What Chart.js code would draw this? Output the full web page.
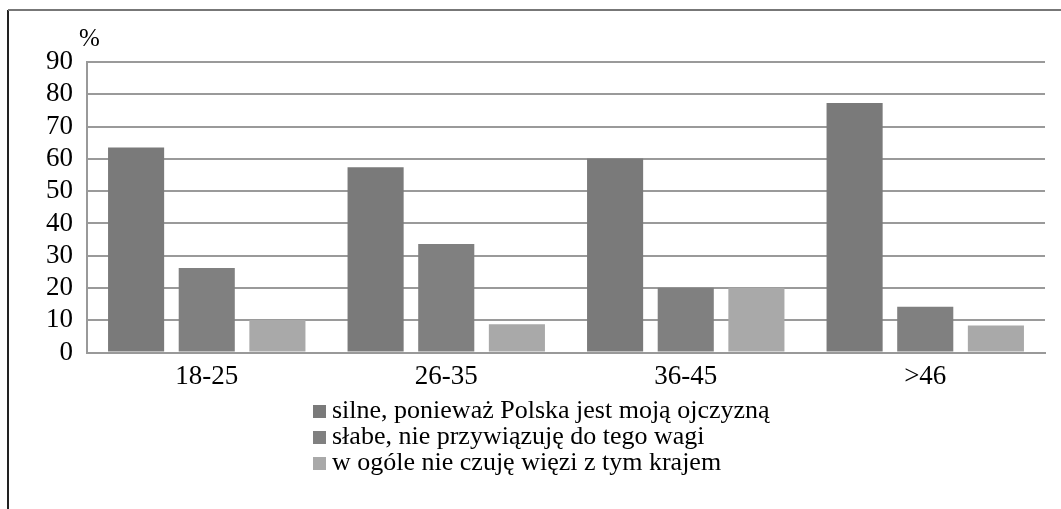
<!DOCTYPE html>
<html>
<head>
<meta charset="utf-8">
<script src="https://cdn.jsdelivr.net/npm/chart.js@4.4.0/dist/chart.umd.min.js"></script>
<style>
    html, body { margin: 0; padding: 0; background: #fff; }
    #wrap { width: 1061px; height: 509px; position: relative; }
</style>
</head>
<body>
<div id="wrap"><canvas id="myChart" width="1061" height="509"></canvas></div>
<script>
const categories = ['18-25', '26-35', '36-45', '>46'];
const seriesNames = [
    'silne, ponieważ Polska jest moją ojczyzną',
    'słabe, nie przywiązuję do tego wagi',
    'w ogóle nie czuję więzi z tym krajem'
];
const strongValues = [63.5, 57.4, 60.1, 77.3];
const weakValues = [26.2, 33.6, 20.1, 14.2];
const noneValues = [10.1, 8.8, 20.1, 8.4];
const yTicks = [0, 10, 20, 30, 40, 50, 60, 70, 80, 90];

const FONT = '"Liberation Serif", "DejaVu Serif", serif';
const colors = ['#7a7a7a', '#808080', '#a9a9a9'];

// ramka, znak % i legenda w pionie
const extras = {
    id: 'extras',
    afterDraw(chart) {
        const ctx = chart.ctx;
        const area = chart.chartArea;
        ctx.save();
        ctx.strokeStyle = '#222';
        ctx.lineWidth = 2;
        ctx.beginPath();
        ctx.moveTo(8, 509);
        ctx.lineTo(8, 10);
        ctx.stroke();
        ctx.strokeStyle = '#777';
        ctx.beginPath();
        ctx.moveTo(8, 10);
        ctx.lineTo(1061, 10);
        ctx.stroke();

        ctx.fillStyle = '#000';
        ctx.font = '25px ' + FONT;
        ctx.textBaseline = 'alphabetic';
        ctx.fillText('%', area.left - 8, area.top - 16);

        ctx.font = '26px ' + FONT;
        ctx.textBaseline = 'middle';
        chart.data.datasets.forEach((ds, i) => {
            const y = 411 + i * 26;
            ctx.fillStyle = ds.backgroundColor;
            ctx.fillRect(313, y - 6, 13, 13);
            ctx.fillStyle = '#000';
            ctx.fillText(ds.label, 332, y);
        });
        ctx.restore();
    }
};

function initChart() {
    const ctx = document.getElementById('myChart').getContext('2d');
    const valueSets = [strongValues, weakValues, noneValues];
    new Chart(ctx, {
        type: 'bar',
        data: {
            labels: categories,
            datasets: seriesNames.map((name, i) => ({
                label: name,
                data: valueSets[i],
                backgroundColor: colors[i],
                borderWidth: 0,
                categoryPercentage: 0.885,
                barPercentage: 0.794
            }))
        },
        options: {
            responsive: false,
            animation: false,
            layout: {
                padding: { left: 32, right: 16, top: 62, bottom: 108 }
            },
            scales: {
                x: {
                    grid: { display: false, drawTicks: false },
                    border: { color: '#999', width: 2 },
                    ticks: {
                        color: '#000',
                        padding: 8,
                        font: { family: FONT, size: 27 }
                    }
                },
                y: {
                    min: 0,
                    max: 90,
                    afterBuildTicks(axis) {
                        axis.ticks = yTicks.map(v => ({ value: v }));
                    },
                    grid: { color: '#9a9a9a', lineWidth: 2, drawTicks: false },
                    border: { color: '#999', width: 2 },
                    ticks: {
                        color: '#000',
                        padding: 14,
                        autoSkip: false,
                        font: { family: FONT, size: 27 }
                    }
                }
            },
            plugins: {
                legend: { display: false },
                tooltip: { enabled: false }
            }
        },
        plugins: [extras]
    });
}

document.addEventListener('DOMContentLoaded', initChart);
</script>
</body>
</html>
